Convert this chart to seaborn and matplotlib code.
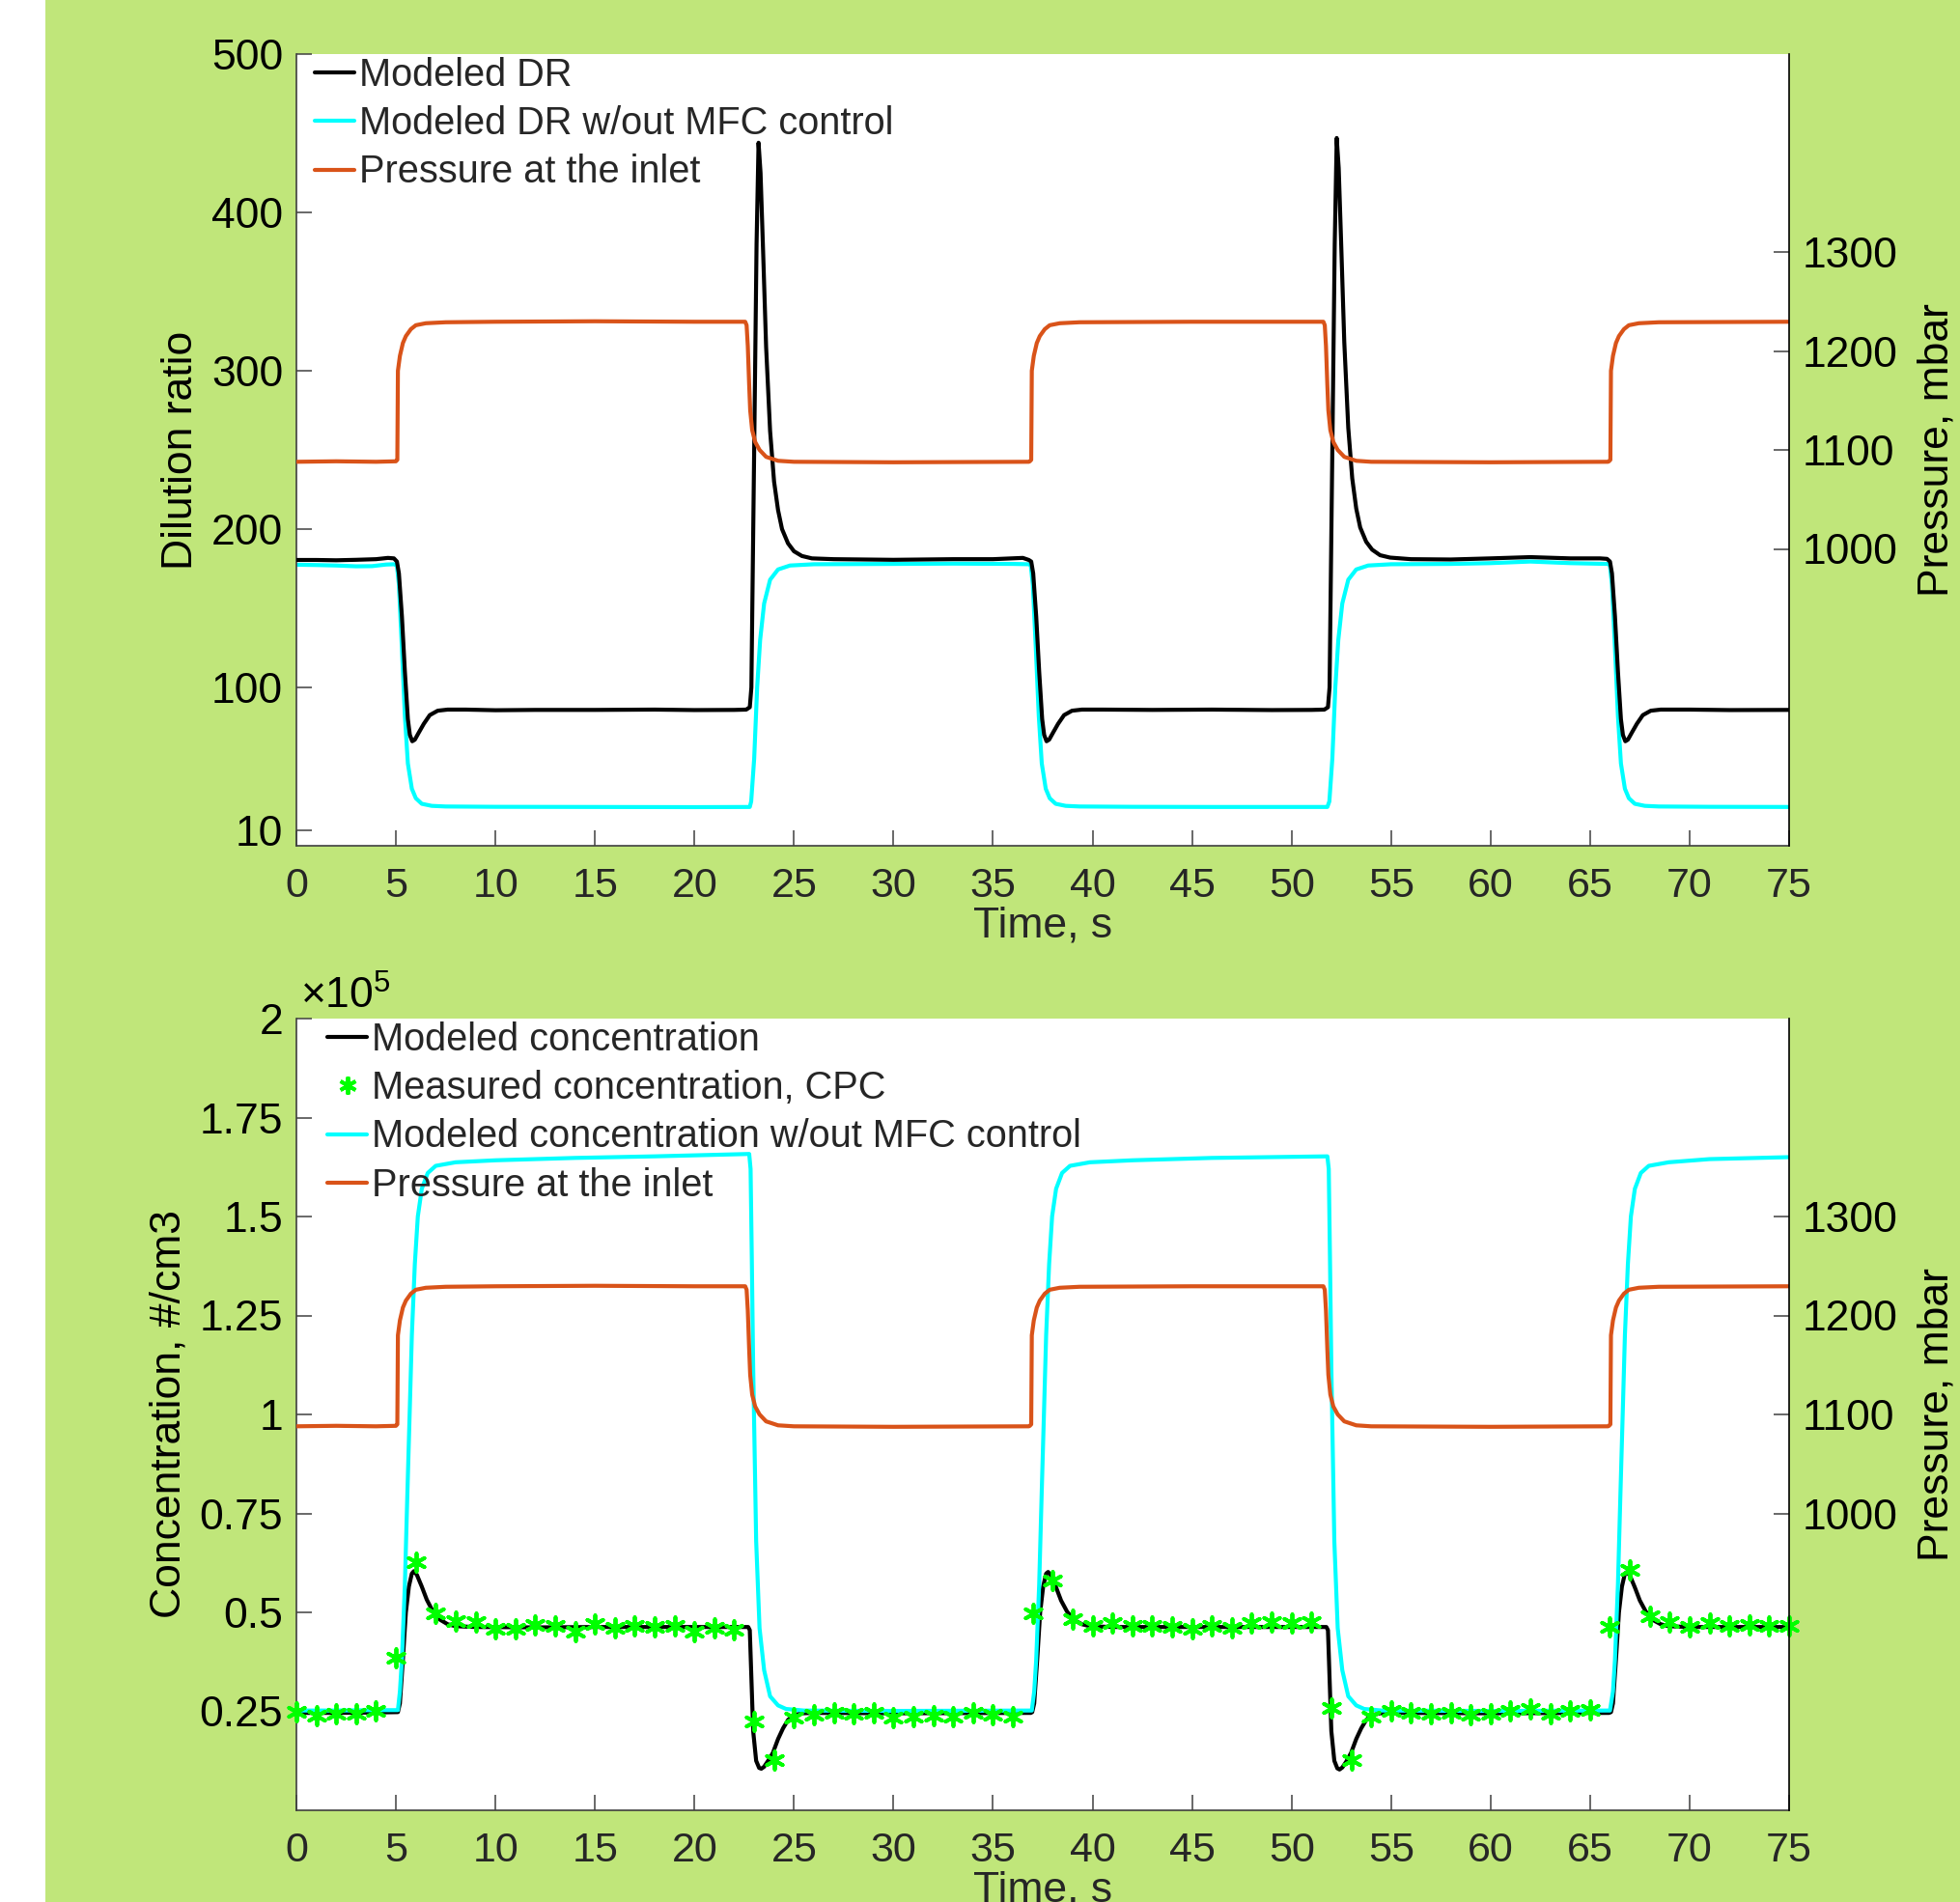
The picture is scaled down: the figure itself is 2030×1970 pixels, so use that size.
import matplotlib
matplotlib.use("Agg")
import matplotlib.pyplot as plt
from matplotlib.lines import Line2D
from matplotlib.patches import Rectangle
import seaborn as sns

# ---------------- data ----------------
# Top panel: modeled dilution ratio (black)
dr_time = [0, 1, 2, 3, 4, 4.6, 4.9, 5.05, 5.15, 5.3, 5.45, 5.6, 5.7, 5.82, 5.95, 6.15, 6.4, 6.7, 7.1, 7.6,
           8.5, 10, 12, 15, 18, 20, 22.0, 22.6, 22.78, 22.86, 23.0, 23.12, 23.22, 23.32, 23.45, 23.6, 23.8,
           24.0, 24.2, 24.4, 24.7, 25.0, 25.4, 25.9, 27, 30, 33, 35, 36.5, 36.8,
           36.92, 37.02, 37.17, 37.32, 37.47, 37.57, 37.69, 37.82, 38.02, 38.27, 38.57, 38.97, 39.47,
           40.5, 43, 46, 49, 51.0, 51.65, 51.83, 51.91, 52.05, 52.17, 52.27, 52.37, 52.5, 52.65, 52.85,
           53.05, 53.25, 53.45, 53.75, 54.05, 54.45, 54.95, 56, 58, 60, 62, 64, 65.5, 65.85,
           66.0, 66.1, 66.25, 66.4, 66.55, 66.65, 66.77, 66.9, 67.1, 67.35, 67.65, 68.05, 68.55, 70, 72, 75]
dr_vals = [180.5, 180.5, 180.3, 180.6, 181.0, 181.8, 181.5, 179.5, 172, 145, 110, 80, 70, 66, 67, 71.5, 77, 82.5, 85.3, 86,
           86, 85.6, 85.8, 85.8, 86, 85.7, 85.8, 86, 87.5, 100, 250, 380, 444, 425, 375, 315, 262,
           230, 212, 200, 191, 186, 183, 181.5, 181, 180.6, 181, 181, 181.8, 180.5,
           179.5, 172, 145, 110, 80, 70, 66, 67, 71.5, 77, 82.5, 85.3, 86,
           86, 85.8, 86, 85.7, 85.8, 86, 87.5, 100, 250, 380, 447, 428, 378, 318, 264,
           232, 213, 201, 192, 187, 183.5, 182, 181, 180.8, 181.5, 182.3, 181.5, 181.5, 181.2,
           179.5, 172, 145, 110, 80, 70, 66, 67, 71.5, 77, 82.5, 85.3, 86, 86, 85.7, 85.8]

# Top panel: modeled dilution ratio without MFC control (cyan)
drn_time = [0, 1, 2, 3, 3.8, 4.5, 4.9, 5.05, 5.15, 5.3, 5.45, 5.6, 5.8, 6.0, 6.3, 6.8, 7.5, 10, 15, 20,
            22.78, 22.85, 23.0, 23.15, 23.3, 23.5, 23.8, 24.2, 24.8, 26, 30, 33, 36, 36.8,
            36.9, 37.0, 37.15, 37.3, 37.45, 37.65, 37.85, 38.15, 38.65, 39.35, 42, 46, 51.8,
            51.9, 52.05, 52.2, 52.35, 52.55, 52.85, 53.25, 53.85, 55, 58, 60, 62, 64, 65.9,
            66.0, 66.1, 66.25, 66.4, 66.55, 66.75, 66.95, 67.25, 67.75, 68.45, 71, 75]
drn_vals = [177.5, 177.3, 177, 176.5, 176.6, 177.6, 177.8, 177, 165, 125, 82, 52, 36, 30, 26.5, 25.2, 24.8, 24.6, 24.5, 24.4,
            24.5, 28, 55, 100, 130, 153, 168, 174.5, 177, 177.8, 178, 178.2, 178, 177.8,
            177, 165, 125, 82, 52, 36, 30, 26.5, 25.2, 24.8, 24.6, 24.5, 24.5,
            28, 55, 100, 130, 153, 168, 174.5, 177, 177.8, 178, 178.5, 179.5, 178.5, 178,
            177, 165, 125, 82, 52, 36, 30, 26.5, 25.2, 24.8, 24.6, 24.5]

# Pressure at the inlet, mbar (red, right axis, same record in both panels)
p_time = [0, 2, 4, 5.0, 5.07, 5.1, 5.2, 5.35, 5.5, 5.75, 6.0, 6.5, 7.5, 10, 15, 20, 22.55, 22.62, 22.68,
          22.75, 22.8, 22.9, 23.05, 23.27, 23.6, 24.2, 25, 30, 36.8,
          36.85, 36.92, 36.95, 37.05, 37.2, 37.35, 37.6, 37.85, 38.35, 39.35, 45, 51.6,
          51.67, 51.73, 51.8, 51.85, 51.95, 52.1, 52.32, 52.65, 53.25, 54, 60, 65.9,
          65.95, 66.02, 66.05, 66.15, 66.3, 66.45, 66.7, 66.95, 67.45, 68.45, 75]
p_vals = [1088, 1088.5, 1088, 1088.5, 1090, 1180, 1195, 1208, 1215, 1222, 1226, 1228, 1229, 1229.5, 1230, 1229.5, 1229.5, 1226, 1205,
          1165, 1140, 1120, 1108, 1100, 1093, 1089, 1088, 1087.5, 1088,
          1088.5, 1090, 1180, 1195, 1208, 1215, 1222, 1226, 1228, 1229, 1229.5, 1229.5,
          1226, 1205, 1165, 1140, 1120, 1108, 1100, 1093, 1089, 1088, 1087.5, 1088,
          1088.5, 1090, 1180, 1195, 1208, 1215, 1222, 1226, 1228, 1229, 1229.5]

# Bottom panel: modeled concentration, x1e5 #/cm3 (black)
c_time = [0, 2, 4, 5.1, 5.2, 5.35, 5.5, 5.65, 5.8, 5.9, 6.05, 6.3, 6.55, 6.85, 7.2, 7.6, 8.0, 9, 12, 15, 18, 21,
          22.7, 22.78, 22.85, 22.95, 23.1, 23.25, 23.36, 23.5, 23.7, 23.94, 24.2, 24.45, 24.7, 24.95, 25.4, 26, 30, 36.9,
          36.97, 37.07, 37.22, 37.37, 37.52, 37.67, 37.77, 37.92, 38.17, 38.42, 38.72, 39.07, 39.47, 39.87, 41, 45, 51.75,
          51.83, 51.9, 52.0, 52.15, 52.3, 52.41, 52.55, 52.75, 52.99, 53.25, 53.5, 53.75, 54.0, 54.45, 55, 60, 65.95,
          66.05, 66.15, 66.3, 66.45, 66.6, 66.75, 66.85, 67.0, 67.25, 67.5, 67.8, 68.15, 68.55, 68.95, 70, 75]
c_vals = [0.246, 0.246, 0.247, 0.248, 0.27, 0.38, 0.50, 0.565, 0.598, 0.604, 0.595, 0.565, 0.532, 0.503, 0.482, 0.470, 0.465, 0.463, 0.462, 0.463, 0.463, 0.463,
          0.463, 0.455, 0.35, 0.20, 0.125, 0.107, 0.105, 0.11, 0.125, 0.145, 0.18, 0.207, 0.228, 0.24, 0.245, 0.246, 0.245, 0.246,
          0.248, 0.27, 0.38, 0.50, 0.565, 0.598, 0.602, 0.593, 0.563, 0.530, 0.502, 0.481, 0.470, 0.465, 0.463, 0.463, 0.463,
          0.455, 0.35, 0.20, 0.125, 0.106, 0.103, 0.108, 0.123, 0.145, 0.18, 0.207, 0.228, 0.24, 0.245, 0.246, 0.245, 0.246,
          0.248, 0.27, 0.38, 0.50, 0.565, 0.598, 0.602, 0.593, 0.563, 0.530, 0.502, 0.481, 0.470, 0.465, 0.463, 0.463]

# Bottom panel: modeled concentration without MFC control, x1e5 (cyan)
cn_time = [0, 2, 4, 5.1, 5.2, 5.3, 5.45, 5.57, 5.7, 5.8, 5.95, 6.1, 6.3, 6.6, 7.0, 8.0, 10, 14, 18,
           22.75, 22.82, 22.88, 22.95, 23.1, 23.27, 23.5, 23.8, 24.2, 24.6, 25.5, 30, 36.95,
           37.07, 37.17, 37.32, 37.44, 37.57, 37.67, 37.82, 37.97, 38.17, 38.47, 38.87, 39.87, 42, 46, 51.8,
           51.87, 51.93, 52.0, 52.15, 52.32, 52.55, 52.85, 53.25, 53.65, 54.55, 60, 66.0,
           66.15, 66.25, 66.4, 66.52, 66.65, 66.75, 66.9, 67.05, 67.25, 67.55, 67.95, 68.95, 71, 75]
cn_vals = [0.252, 0.252, 0.253, 0.253, 0.30, 0.38, 0.57, 0.79, 1.02, 1.2, 1.38, 1.5, 1.57, 1.61, 1.628, 1.637, 1.642, 1.648, 1.652,
           1.658, 1.62, 1.4, 1.12, 0.68, 0.46, 0.354, 0.288, 0.265, 0.256, 0.252, 0.251, 0.252,
           0.30, 0.38, 0.57, 0.79, 1.02, 1.2, 1.38, 1.5, 1.57, 1.61, 1.628, 1.637, 1.642, 1.648, 1.652,
           1.62, 1.4, 1.12, 0.68, 0.46, 0.354, 0.288, 0.265, 0.256, 0.252, 0.251, 0.252,
           0.30, 0.38, 0.57, 0.79, 1.02, 1.2, 1.38, 1.5, 1.57, 1.61, 1.628, 1.637, 1.645, 1.65]

# Bottom panel: measured concentration, CPC, x1e5 (green asterisks, 1 s sampling)
cpc_time = [0, 1, 2, 3, 4, 5, 6, 7, 8, 9, 10, 11, 12, 13, 14, 15, 16, 17, 18, 19, 20, 21, 22, 23, 24, 25,
            26, 27, 28, 29, 30, 31, 32, 33, 34, 35, 36, 37, 38, 39, 40, 41, 42, 43, 44, 45, 46, 47, 48, 49, 50,
            51, 52, 53, 54, 55, 56, 57, 58, 59, 60, 61, 62, 63, 64, 65, 66, 67, 68, 69, 70, 71, 72, 73, 74, 75]
cpc_vals = [0.248, 0.240, 0.244, 0.244, 0.252, 0.385, 0.628, 0.498, 0.478, 0.476, 0.459, 0.459, 0.469, 0.467,
            0.451, 0.470, 0.460, 0.467, 0.463, 0.467, 0.452, 0.460, 0.457, 0.225, 0.128, 0.235,
            0.241, 0.246, 0.243, 0.246, 0.233, 0.237, 0.240, 0.237, 0.246, 0.241, 0.236,
            0.498, 0.581, 0.482, 0.466, 0.474, 0.466, 0.466, 0.463, 0.459, 0.466, 0.461, 0.472, 0.476, 0.472,
            0.476, 0.259, 0.126, 0.237, 0.252, 0.246, 0.244, 0.246, 0.241, 0.244, 0.252, 0.256, 0.244, 0.252, 0.254,
            0.463, 0.608, 0.490, 0.476, 0.463, 0.472, 0.467, 0.469, 0.467, 0.466]

x_ticks = [0, 5, 10, 15, 20, 25, 30, 35, 40, 45, 50, 55, 60, 65, 70, 75]
dr_ticks = [10, 100, 200, 300, 400, 500]
c_ticks = [0.25, 0.5, 0.75, 1, 1.25, 1.5, 1.75, 2]
c_ticklabels = ["0.25", "0.5", "0.75", "1", "1.25", "1.5", "1.75", "2"]
p_ticks = [1000, 1100, 1200, 1300]

# ---------------- styling ----------------
sns.set_style("ticks")
plt.rcParams["font.family"] = ["Liberation Sans", "DejaVu Sans"]
plt.rcParams["mathtext.fontset"] = "custom"
plt.rcParams["mathtext.rm"] = "Liberation Sans"
plt.rcParams["mathtext.it"] = "Liberation Sans:italic"

BG = "#C0E67A"
BLACK = "#000000"
CYAN = "#00FFFF"
RED = "#D95319"
GREEN = "#00FF00"
AXC = "#404040"
TXT = "#262626"
FS_XTICK = 31
FS_YTICK = 32
FS_LAB = 32
FS_LEG = 28.6
LW = 3.0

W, H = 2030, 1970
fig = plt.figure(figsize=(W / 100, H / 100), dpi=100)
fig.patch.set_facecolor(BG)
fig.add_artist(Rectangle((0, 0), 47 / W, 1, transform=fig.transFigure,
                         facecolor="white", edgecolor="none", zorder=-5))

ax1 = fig.add_axes([307 / W, 1 - 876 / H, 1546 / W, 820 / H])
ax2 = fig.add_axes([307 / W, 1 - 1875 / H, 1546 / W, 820 / H])


def style(ax, axr):
    ax.set_facecolor("white")
    ax.set_xlim(0, 75)
    ax.set_xticks(x_ticks)
    ax.set_xticklabels([str(t) for t in x_ticks])
    ax.spines["top"].set_visible(False)
    ax.spines["right"].set_visible(False)
    for s in ["left", "bottom"]:
        ax.spines[s].set_color(AXC)
        ax.spines[s].set_linewidth(1.2)
    axr.spines["top"].set_visible(False)
    axr.spines["left"].set_visible(False)
    axr.spines["bottom"].set_visible(False)
    axr.spines["right"].set_color(BLACK)
    axr.spines["right"].set_linewidth(1.2)
    ax.tick_params(axis="x", direction="in", length=11.5, width=1.1, color=AXC,
                   labelcolor=TXT, labelsize=FS_XTICK, pad=15.5, top=False)
    ax.tick_params(axis="y", direction="in", length=11.5, width=1.1, color=AXC,
                   labelcolor=BLACK, labelsize=FS_YTICK, pad=10, right=False)
    axr.tick_params(axis="y", direction="in", length=11.5, width=1.1, color=AXC,
                    labelcolor=BLACK, labelsize=FS_YTICK, pad=10)
    axr.set_ylim(700, 1500)
    axr.set_yticks(p_ticks)
    axr.set_yticklabels([str(t) for t in p_ticks])
    axr.set_ylabel("Pressure, mbar", fontsize=FS_LAB, color=BLACK, labelpad=14)
    ax.set_xlabel("Time, s", fontsize=FS_LAB, color=TXT, labelpad=1)


# ---- top panel ----
ax1r = ax1.twinx()
sns.lineplot(x=drn_time, y=drn_vals, ax=ax1, color=CYAN, linewidth=LW, sort=False,
             estimator=None, zorder=2)
sns.lineplot(x=dr_time, y=dr_vals, ax=ax1, color=BLACK, linewidth=LW, sort=False,
             estimator=None, zorder=3)
sns.lineplot(x=p_time, y=p_vals, ax=ax1r, color=RED, linewidth=LW, sort=False,
             estimator=None)
ax1.set_ylim(0, 500)
ax1.set_yticks(dr_ticks)
ax1.set_yticklabels([str(t) for t in dr_ticks])
ax1.set_ylabel("Dilution ratio", fontsize=FS_LAB, color=BLACK, labelpad=8)
style(ax1, ax1r)

h1 = [Line2D([], [], color=BLACK, lw=LW), Line2D([], [], color=CYAN, lw=LW),
      Line2D([], [], color=RED, lw=LW)]
l1 = ["Modeled DR", "Modeled DR w/out MFC control", "Pressure at the inlet"]
leg1 = ax1.legend(h1, l1, loc="upper left", bbox_to_anchor=(0.0123, 0.9965), frameon=False,
                  fontsize=FS_LEG, handlelength=1.04, handletextpad=0.13, labelspacing=0.31,
                  borderaxespad=0, borderpad=0)

# ---- bottom panel ----
ax2r = ax2.twinx()
sns.lineplot(x=c_time, y=c_vals, ax=ax2, color=BLACK, linewidth=LW, sort=False,
             estimator=None, zorder=2)
sns.lineplot(x=cn_time, y=cn_vals, ax=ax2, color=CYAN, linewidth=LW, sort=False,
             estimator=None, zorder=3)
sns.scatterplot(x=cpc_time, y=cpc_vals, ax=ax2, marker=(6, 2, 0), s=180, color=GREEN,
                linewidth=2.8, zorder=4, clip_on=False)
sns.lineplot(x=p_time, y=p_vals, ax=ax2r, color=RED, linewidth=LW, sort=False,
             estimator=None)
ax2.set_ylim(0, 2)
ax2.set_yticks(c_ticks)
ax2.set_yticklabels(c_ticklabels)
ax2.set_ylabel("Concentration, #/cm3", fontsize=FS_LAB, color=BLACK, labelpad=8)
style(ax2, ax2r)
ax2.text(0.0026, 1.012, r"$\times10^{5}$", transform=ax2.transAxes, fontsize=FS_YTICK,
         color=BLACK, ha="left", va="baseline")

h2 = [Line2D([], [], color=BLACK, lw=LW),
      Line2D([], [], color=GREEN, lw=0, marker=(6, 2, 0), markersize=13, markeredgewidth=2.8),
      Line2D([], [], color=CYAN, lw=LW), Line2D([], [], color=RED, lw=LW)]
l2 = ["Modeled concentration", "Measured concentration, CPC",
      "Modeled concentration w/out MFC control", "Pressure at the inlet"]
leg2 = ax2.legend(h2, l2, loc="upper left", bbox_to_anchor=(0.0207, 0.9965), frameon=False,
                  fontsize=FS_LEG, handlelength=1.04, handletextpad=0.13, labelspacing=0.31,
                  borderaxespad=0, borderpad=0)

fig.savefig("out.png", dpi=100, facecolor=fig.get_facecolor())
